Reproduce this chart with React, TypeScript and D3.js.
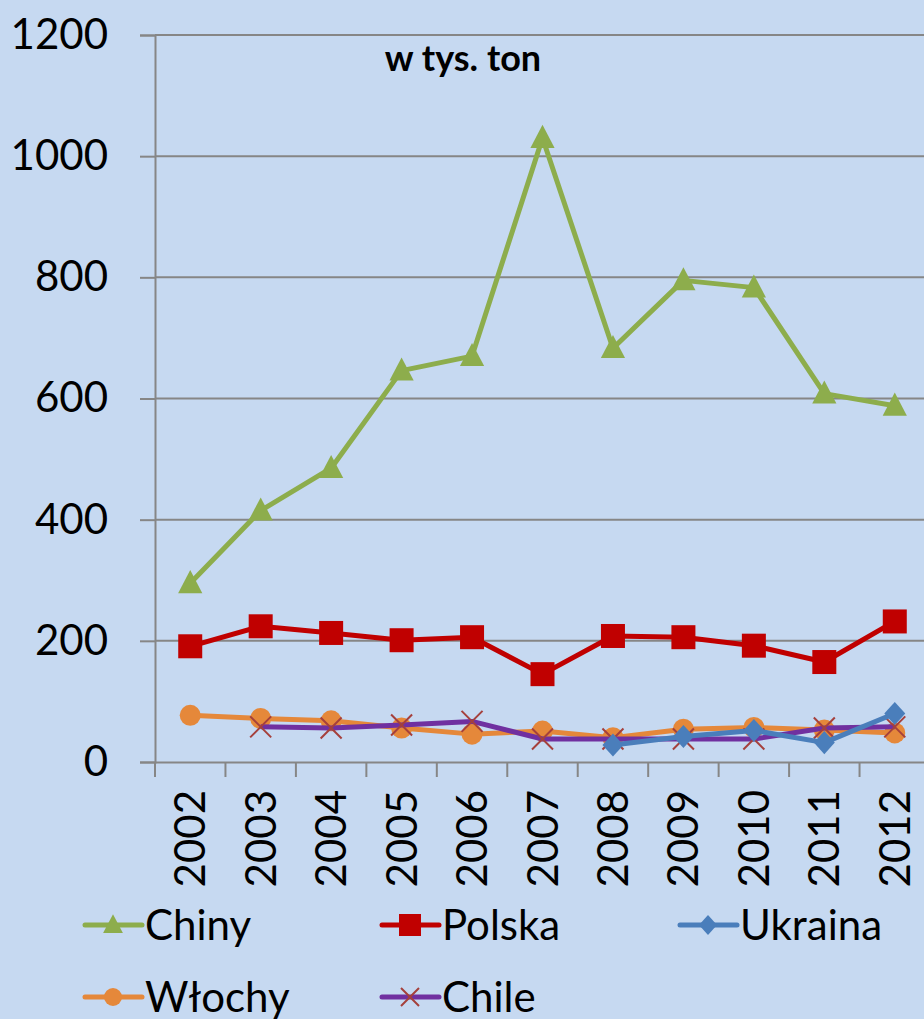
import React, { useEffect, useRef } from 'react';
import * as d3 from 'd3';

const years = ['2002', '2003', '2004', '2005', '2006', '2007', '2008', '2009', '2010', '2011', '2012'];
const chiny = [295, 415, 485, 646, 670, 1030, 683, 795, 783, 608, 588];
const polska = [191, 224, 213, 201, 206, 145, 208, 206, 192, 165, 232];
const ukraina = [null, null, null, null, null, null, 28, 42, 52, 32, 80];
const wlochy = [77, 72, 68, 56, 46, 51, 40, 54, 57, 53, 48];
const chile = [null, 58, 56, 61, 67, 38, 38, 38, 38, 56, 58];
const yTicks = [0, 200, 400, 600, 800, 1000, 1200];

const series = [
  { name: 'Chiny', values: chiny, color: '#8DAD4C', marker: 'triangle' },
  { name: 'Polska', values: polska, color: '#C00000', marker: 'square' },
  { name: 'Ukraina', values: ukraina, color: '#4A7EBB', marker: 'diamond' },
  { name: 'Włochy', values: wlochy, color: '#E5883A', marker: 'circle' },
  { name: 'Chile', values: chile, color: '#7030A0', marker: 'x' },
];

const W = 924;
const H = 1019;
const FONT = 'Lato, "Open Sans", sans-serif';
const FS = 42;

function drawMarker(g: any, kind: string, color: string, x: number, y: number, s: number) {
  if (kind === 'triangle') {
    g.append('path').attr('d', `M${x},${y - s * 0.6}L${x + s * 0.55},${y + s * 0.45}L${x - s * 0.55},${y + s * 0.45}Z`).attr('fill', color);
  } else if (kind === 'square') {
    g.append('rect').attr('x', x - s / 2).attr('y', y - s / 2).attr('width', s).attr('height', s).attr('fill', color);
  } else if (kind === 'diamond') {
    g.append('path').attr('d', `M${x},${y - s * 0.55}L${x + s * 0.5},${y}L${x},${y + s * 0.55}L${x - s * 0.5},${y}Z`).attr('fill', color);
  } else if (kind === 'circle') {
    g.append('circle').attr('cx', x).attr('cy', y).attr('r', s / 2).attr('fill', color);
  } else {
    const r = s / 2;
    g.append('path').attr('d', `M${x - r},${y - r}L${x + r},${y + r}M${x - r},${y + r}L${x + r},${y - r}`)
      .attr('stroke', '#A5403C').attr('stroke-width', 2).attr('fill', 'none');
  }
}

export default function App() {
  const ref = useRef<SVGSVGElement>(null);

  useEffect(() => {
    const svg = d3.select(ref.current);
    svg.selectAll('*').remove();

    const x = d3.scaleBand().domain(years).range([155, 930]);
    const y = d3.scaleLinear().domain([0, 1200]).range([762, 35]);

    svg.append('rect').attr('width', W).attr('height', H).attr('fill', '#C6D9F1');

    // gridlines
    svg.append('g').selectAll('line').data(yTicks.slice(1)).enter().append('line')
      .attr('x1', 155).attr('x2', 930).attr('y1', d => y(d)).attr('y2', d => y(d))
      .attr('stroke', '#868686').attr('stroke-width', 2);

    // y axis
    const yAxis = svg.append('g').attr('transform', 'translate(155,0)')
      .call(d3.axisLeft(y).tickValues(yTicks).tickFormat(d3.format('d')).tickSize(15).tickPadding(32));
    yAxis.select('.domain').attr('stroke', '#868686').attr('stroke-width', 2);
    yAxis.selectAll('.tick line').attr('stroke', '#868686').attr('stroke-width', 2);
    yAxis.selectAll('text').attr('font-family', FONT).attr('font-size', FS).attr('fill', '#000');

    // x axis
    const xAxis = svg.append('g').attr('transform', 'translate(0,762)')
      .call(d3.axisBottom(x).tickSize(0).tickFormat(() => ''));
    xAxis.select('.domain').attr('stroke', '#868686').attr('stroke-width', 2);
    svg.append('g').selectAll('line').data(years.concat(['end'])).enter().append('line')
      .attr('x1', (d, i) => 155 + i * x.step()).attr('x2', (d, i) => 155 + i * x.step())
      .attr('y1', 762).attr('y2', 777).attr('stroke', '#868686').attr('stroke-width', 2);
    svg.append('g').selectAll('text').data(years).enter().append('text')
      .attr('transform', d => `translate(${(x(d) as number) + x.bandwidth() / 2 + 15},790) rotate(-90)`)
      .attr('text-anchor', 'end').attr('font-family', FONT).attr('font-size', FS).text(d => d);

    // title
    svg.append('text').attr('x', 463).attr('y', 71).attr('text-anchor', 'middle')
      .attr('font-family', FONT).attr('font-weight', 'bold').attr('font-size', 36).text('w tys. ton');

    const cx = (i: number) => (x(years[i]) as number) + x.bandwidth() / 2;
    const line = d3.line<any>().defined(d => d.v != null).x(d => cx(d.i)).y(d => y(d.v));

    const order = [0, 1, 3, 4, 2];
    order.forEach(k => {
      const s = series[k];
      const pts = s.values.map((v, i) => ({ v, i }));
      const g = svg.append('g');
      g.append('path').datum(pts).attr('d', line).attr('fill', 'none')
        .attr('stroke', s.color).attr('stroke-width', 5).attr('stroke-linejoin', 'round');
      const size = s.marker === 'square' ? 24 : s.marker === 'triangle' ? 22 : 21;
      pts.filter(p => p.v != null).forEach(p => drawMarker(g, s.marker, s.color, cx(p.i), y(p.v as number), size));
    });

    // legend
    const legendPos = [[85, 925], [382, 925], [680, 925], [85, 997], [382, 997]];
    series.forEach((s, k) => {
      const [lx, ly] = legendPos[k];
      const g = svg.append('g');
      g.append('line').attr('x1', lx).attr('x2', lx + 57).attr('y1', ly).attr('y2', ly)
        .attr('stroke', s.color).attr('stroke-width', 5).attr('stroke-linecap', 'round');
      const size = s.marker === 'square' ? 22 : 18;
      drawMarker(g, s.marker, s.color, lx + 28, ly, size);
      g.append('text').attr('x', lx + 60).attr('y', ly + 15).attr('font-family', FONT)
        .attr('font-size', FS).text(s.name);
    });
  }, []);

  return <svg ref={ref} width={W} height={H} style={{ position: 'absolute', left: 0, top: 0 }} />;
}
